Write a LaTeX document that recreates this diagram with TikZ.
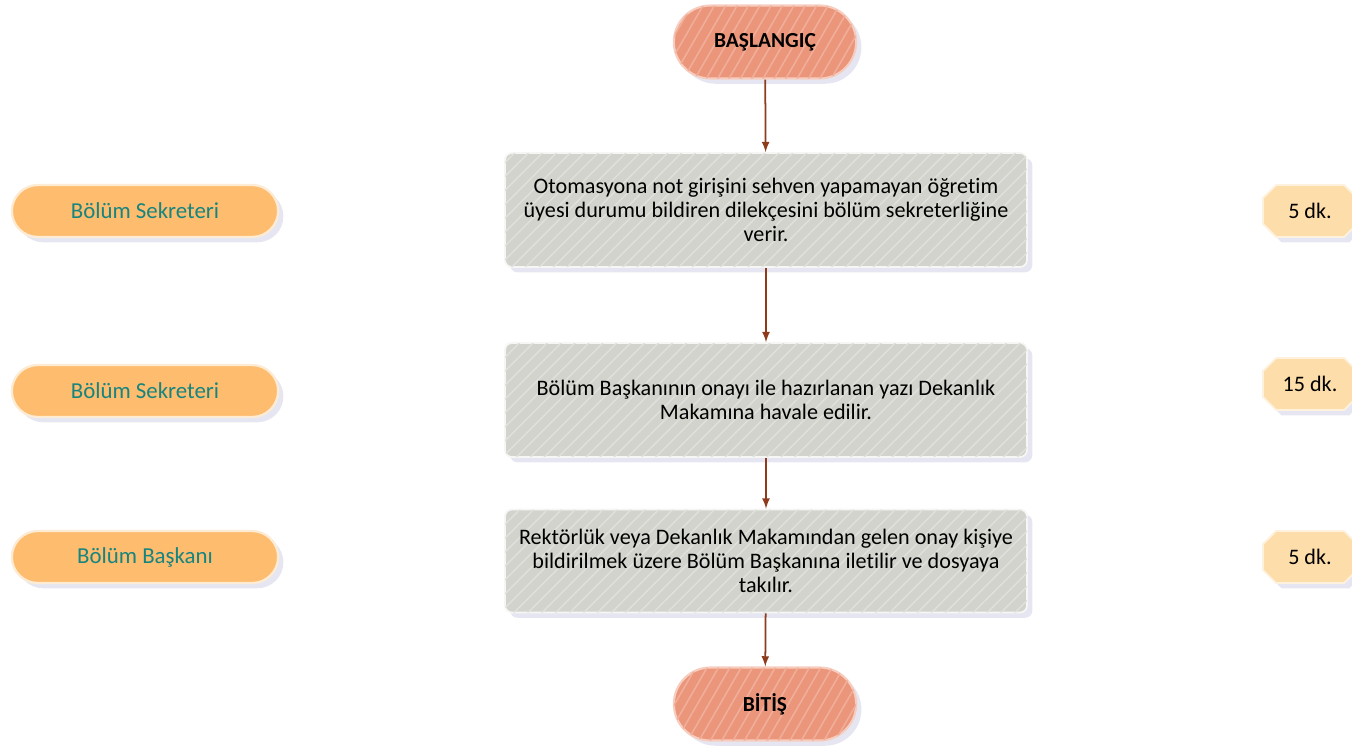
\documentclass[tikz,border=0pt]{standalone}
\usepackage{fontspec}
\setmainfont{Carlito}[Ligatures={NoCommon}]
\usetikzlibrary{positioning,shapes.misc,shadows,patterns.meta}

\definecolor{salmon}{HTML}{EB957A}
\definecolor{salmonedge}{HTML}{F6CDBE}
\definecolor{stepgrey}{HTML}{D3D3CD}
\definecolor{rolefill}{HTML}{FDBC6E}
\definecolor{roletext}{HTML}{16857F}
\definecolor{timefill}{HTML}{FDDDAA}
\definecolor{arrowbrown}{HTML}{8E3B1C}

\begin{document}
\begin{tikzpicture}[x=0.02cm, y=-0.02cm, font=\fontsize{12.6}{13.8}\selectfont,
    softshadow/.style={drop shadow={shadow xshift=3pt, shadow yshift=-3pt, opacity=0.15, fill=blue!30!gray}},
    terminal/.style={rounded rectangle, minimum width=194*0.02cm, minimum height=73*0.02cm,
        fill=salmon, draw=salmonedge, line width=1.2pt, softshadow,
        postaction={pattern={Lines[angle=60, distance=5.6pt, line width=0.9pt]}, pattern color=white!25!salmon},
        font=\fontsize{12.2}{13.6}\selectfont\bfseries},
    stepbox/.style={rectangle, rounded corners=4pt, minimum width=522*0.02cm, minimum height=114*0.02cm,
        fill=stepgrey, draw=white!80!stepgrey, line width=1pt, softshadow, align=center,
        postaction={pattern={Lines[angle=45, distance=5.6pt, line width=0.8pt]}, pattern color=white!30!stepgrey}},
    role/.style={rounded rectangle, minimum width=278*0.02cm, minimum height=52*0.02cm,
        fill=rolefill, draw=white!70!rolefill, line width=1.3pt, softshadow, text=roletext,
        font=\fontsize{13}{14}\selectfont},
    timebox/.style={rectangle, minimum width=96*0.02cm, minimum height=52*0.02cm},
    timefillc/.style={fill=timefill, draw=white!60!timefill, line width=1pt, softshadow},
    flow/.style={-latex, arrowbrown, line width=1pt}]

\useasboundingbox (0,0) rectangle (1352,751);

% akış
\node[terminal] (basla) at (765,42) {BAŞLANGIÇ};
\node[stepbox] (adim1) at (766,210) {Otomasyona not girişini sehven yapamayan öğretim\\üyesi durumu bildiren dilekçesini bölüm sekreterliğine\\verir.};
\node[stepbox] (adim2) at (766,400) {Bölüm Başkanının onayı ile hazırlanan yazı Dekanlık\\Makamına havale edilir.};
\node[stepbox, minimum height=103*0.02cm] (adim3) at (766,561) {Rektörlük veya Dekanlık Makamından gelen onay kişiye\\bildirilmek üzere Bölüm Başkanına iletilir ve dosyaya\\takılır.};
\node[terminal] (bitis) at (765,704) {BİTİŞ};

\draw[flow] (basla) -- (adim1);
\draw[flow] (adim1) -- (adim2);
\draw[flow] (adim2) -- (adim3);
\draw[flow] (adim3) -- (bitis);

% sorumlular
\node[role] (rol1) at (145,211) {Bölüm Sekreteri};
\node[role] (rol2) at (145,391) {Bölüm Sekreteri};
\node[role] (rol3) at (145,557) {Bölüm Başkanı};

% süreler (sekizgen)
\foreach \y in {211, 384, 557}{
  \path[timefillc] (1263,\y-13) -- (1276,\y-26) -- (1344,\y-26) -- (1357,\y-13)
        -- (1357,\y+13) -- (1344,\y+26) -- (1276,\y+26) -- (1263,\y+13) -- cycle;
}
\node[timebox] (sure1) at (1310,211) {5 dk.};
\node[timebox] (sure2) at (1310,384) {15 dk.};
\node[timebox] (sure3) at (1310,557) {5 dk.};
\end{tikzpicture}
\end{document}
